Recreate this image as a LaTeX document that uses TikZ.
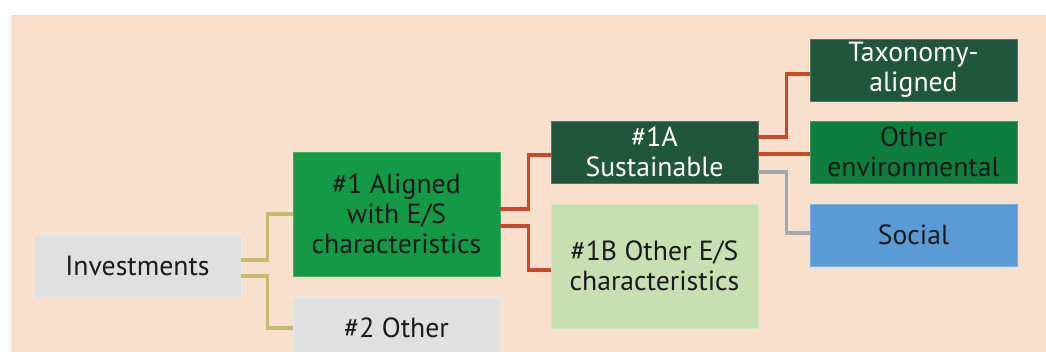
\documentclass[tikz,border=0pt]{standalone}
\usepackage{fontspec}
\setmainfont{PT Sans}
\usetikzlibrary{calc, positioning}
\definecolor{peach}{HTML}{F8E0CD}
\definecolor{lg}{HTML}{E0E0E0}
\definecolor{g1}{HTML}{149A47}
\definecolor{g2}{HTML}{20573C}
\definecolor{g3}{HTML}{0E7D3E}
\definecolor{g4}{HTML}{C6E0B4}
\definecolor{bl}{HTML}{5B9BD5}
\definecolor{ol}{HTML}{C4BB72}
\definecolor{rd}{HTML}{C9472A}
\definecolor{gy}{HTML}{A6A6A6}
\definecolor{tx}{HTML}{1A1A1A}

\begin{document}
\begin{tikzpicture}[x=0.025cm, y=-0.025cm,
    box/.style={draw=#1!80!white, fill=#1, line width=0.6pt, inner sep=0pt,
        minimum width=5.175cm, minimum height=1.55cm, align=center,
        text=tx, font=\fontsize{19.7}{21.4}\selectfont},
    tall/.style={minimum height=3.1cm},
    conn/.style={line width=2.2pt}]
    \useasboundingbox (0,0) rectangle (1046,352);
    \fill[peach] (11,15) rectangle (1046,352);

    % boxes
    \node[box=lg] (inv) at (137.5,266) {Investments};
    \node[box=g1, tall] (al) at (396.5,214) {\#1 Aligned\\with E/S\\characteristics};
    \node[box=lg] (oth) at (396.5,328) {\#2 Other};
    \node[box=g2, text=white] (sus) at (654.5,152) {\#1A\\Sustainable};
    \node[box=g4, tall] (ob) at (654.5,266) {\#1B Other E/S\\characteristics};
    \node[box=g2, text=white] (tax) at (913.5,70) {Taxonomy-\\aligned};
    \node[box=g3] (env) at (913.5,152) {Other\\environmental};
    \node[box=bl] (soc) at (913.5,235) {Social};

    % connectors
    \draw[conn, ol] ($(inv.east)+(0,-6)$) -- ++(26,0) |- (al.west);
    \draw[conn, ol] ($(inv.east)+(0,10)$) -- ++(26,0) |- (oth.west);
    \draw[conn, rd] ($(al.east)+(0,-5)$) -- ++(28,0) |- ($(sus.west)+(0,3)$);
    \draw[conn, rd] ($(al.east)+(0,12)$) -- ++(28,0) |- ($(ob.west)+(0,4)$);
    \draw[conn, rd] ($(sus.east)+(0,-15)$) -- ++(28,0) |- ($(tax.west)+(0,4)$);
    \draw[conn, rd] ($(sus.east)+(0,2)$) -- ($(env.west)+(0,2)$);
    \draw[conn, gy] ($(sus.east)+(0,20)$) -- ++(28,0) |- ($(soc.west)+(0,-2)$);
\end{tikzpicture}
\end{document}
